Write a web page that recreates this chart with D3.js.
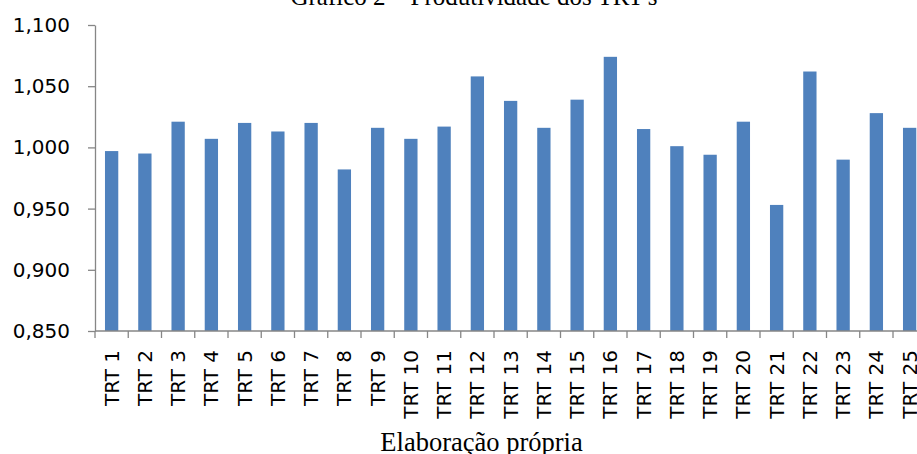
<!DOCTYPE html>
<html>
<head>
<meta charset="utf-8">
<script src="https://cdn.jsdelivr.net/npm/d3@7"></script>
<style>
  body { margin: 0; background: #fff; }
  svg { display: block; }
</style>
</head>
<body>
<svg id="chart" width="917" height="454"></svg>
<script>
const categories = d3.range(1, 26).map(i => "TRT " + i);
const values = [0.997, 0.995, 1.021, 1.007, 1.020, 1.013, 1.020, 0.982, 1.016, 1.007,
                1.017, 1.058, 1.038, 1.016, 1.039, 1.074, 1.015, 1.001, 0.994, 1.021,
                0.953, 1.062, 0.990, 1.028, 1.016];
const yTicks = [0.85, 0.90, 0.95, 1.00, 1.05, 1.10];
const title = "Gráfico 2 – Produtividade dos TRT's";
const source = "Elaboração própria";

const plotLeft = 95;
const step = 33.25;
const plotTop = 25;
const plotBottom = 331;

const svg = d3.select("#chart");

// band scale runs past the window on the right, like the original image
var x = d3.scaleBand()
    .domain(categories)
    .range([plotLeft, plotLeft + step * categories.length])
    .paddingInner(0.6)
    .paddingOuter(0.3);

var y = d3.scaleLinear()
    .domain([0.85, 1.10])
    .range([plotBottom, plotTop]);

// boundary ticks sit between the categories
var edge = d3.scaleLinear()
    .domain([0, categories.length])
    .range(x.range());

svg.append("g")
    .selectAll("rect")
    .data(values)
    .enter()
    .append("rect")
    .attr("x", (d, i) => x(categories[i]))
    .attr("width", x.bandwidth())
    .attr("y", d => y(d))
    .attr("height", d => y(0.85) - y(d))
    .attr("fill", "#4f81bd");

var yAxis = d3.axisLeft(y)
    .tickValues(yTicks)
    .tickSize(7)
    .tickSizeOuter(0)
    .tickPadding(18)
    .tickFormat(d => d.toFixed(3).replace(".", ","));

var gy = svg.append("g")
    .attr("transform", "translate(" + plotLeft + ",0)")
    .call(yAxis);
gy.selectAll("line, path").attr("stroke", "#868686").attr("stroke-width", 1.3);
gy.selectAll("text")
    .attr("font-family", "DejaVu Sans")
    .attr("font-size", 20)
    .attr("fill", "#000");

// x axis line and the boundary ticks
svg.append("line")
    .attr("x1", edge(0)).attr("x2", edge(categories.length))
    .attr("y1", plotBottom).attr("y2", plotBottom)
    .attr("stroke", "#868686").attr("stroke-width", 1.3);

svg.append("g")
    .selectAll("line")
    .data(d3.range(categories.length + 1))
    .enter()
    .append("line")
    .attr("x1", d => edge(d)).attr("x2", d => edge(d))
    .attr("y1", plotBottom).attr("y2", plotBottom + 7)
    .attr("stroke", "#868686").attr("stroke-width", 1.3);

svg.append("g")
    .selectAll("text")
    .data(categories)
    .enter()
    .append("text")
    .attr("transform", d => "translate(" + (x(d) + x.bandwidth() / 2) + "," + 350 + ") rotate(-90)")
    .attr("text-anchor", "end")
    .attr("dy", "0.35em")
    .attr("font-family", "DejaVu Sans")
    .attr("font-size", 20)
    .attr("fill", "#000")
    .text(d => d);

svg.append("text")
    .attr("x", 474).attr("y", 4.5)
    .attr("text-anchor", "middle")
    .attr("font-family", "Liberation Serif")
    .attr("font-size", 25)
    .text(title);

svg.append("text")
    .attr("x", 481.5).attr("y", 450.5)
    .attr("text-anchor", "middle")
    .attr("font-family", "Liberation Serif")
    .attr("font-size", 26.5)
    .text(source);
</script>
</body>
</html>
